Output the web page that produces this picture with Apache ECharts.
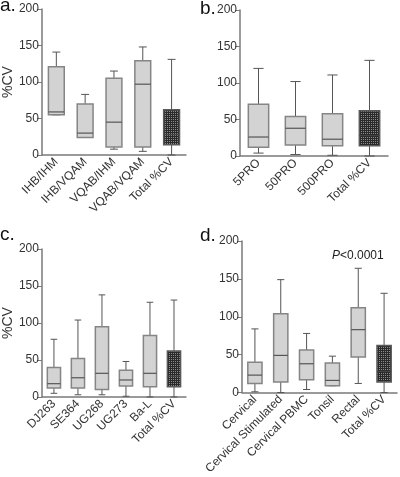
<!DOCTYPE html>
<html><head><meta charset="utf-8">
<script src="https://cdn.jsdelivr.net/npm/echarts@6/dist/echarts.min.js"></script>
<style>html,body{margin:0;padding:0;background:#fff}#c{width:400px;height:477px}</style>
</head><body><div id="c"></div><script>
// y-axis ticks (shared)
const yMin = 0, yMax = 200, yStep = 50;
// Box stats: [min, Q1, median, Q3, max]
const totalCV = [0, 14, 28, 62, 131];
const catsA = ['IHB/IHM', 'IHB/VQAM', 'VQAB/IHM', 'VQAB/VQAM', 'Total %CV'];
const boxesA = [[55, 55, 59, 121, 141], [24, 24, 30, 70, 83], [8, 11, 45, 105, 115], [5, 11, 97, 129, 148]];
const catsB = ['5PRO', '50PRO', '500PRO', 'Total %CV'];
const boxesB = [[4, 12, 26, 71, 120], [2, 15, 38, 54, 102], [1, 14, 23, 58, 111]];
const catsC = ['DJ263', 'SE364', 'UG268', 'UG273', 'Ba-L', 'Total %CV'];
const boxesC = [[5, 12, 18, 40, 78], [3, 12, 26, 52, 104], [3, 10, 32, 95, 138], [1, 15, 23, 36, 48], [0, 14, 32, 83, 128]];
const catsD = ['Cervical', 'Cervical Stimulated', 'Cervical PBMC', 'Tonsil', 'Rectal', 'Total %CV'];
const boxesD = [[1, 12, 23, 40, 84], [0, 14, 49, 104, 149], [4, 17, 38, 56, 78], [9, 9, 16, 39, 48], [12, 47, 83, 112, 164]];
const panelLabels = ['a.', 'b.', 'c.', 'd.'];
const pText = 'P<0.0001';

// checker pattern for Total %CV box
const pc = document.createElement('canvas');
pc.width = 2; pc.height = 2;
const pctx = pc.getContext('2d');
pctx.fillStyle = '#2a2a2a'; pctx.fillRect(0, 0, 2, 2);
pctx.fillStyle = '#8c8c8c'; pctx.fillRect(1, 1, 1, 1);
const pattern = { type: 'pattern', image: pc, repeat: 'repeat' };

const panels = [
  { cats: catsA, boxes: boxesA, grid: { left: 38, top: 9, width: 148, height: 146 }, yName: '%CV' },
  { cats: catsB, boxes: boxesB, grid: { left: 240, top: 10, width: 148, height: 146 }, yName: '' },
  { cats: catsC, boxes: boxesC, grid: { left: 38, top: 249, width: 148, height: 148 }, yName: '%CV' },
  { cats: catsD, boxes: boxesD, grid: { left: 242, top: 241, width: 155, height: 156 }, yName: '' }
];

const FONT = '"Liberation Sans", Arial, sans-serif';
const axisColor = '#7a7a7a';

function renderItem(params, api) {
  const i = api.value(0);
  const isTotal = api.value(6) === 1;
  const xc = api.coord([i, 0])[0];
  const Y = v => api.coord([i, v])[1];
  const band = api.size([1, 0])[0];
  const bw = band * 0.55, cw = bw * 0.5;
  const mn = Y(api.value(1)), q1 = Y(api.value(2)), md = Y(api.value(3)), q3 = Y(api.value(4)), mx = Y(api.value(5));
  const ws = { stroke: '#555', lineWidth: 1, fill: null };
  return {
    type: 'group', children: [
      { type: 'line', shape: { x1: xc, y1: mx, x2: xc, y2: q3 }, style: ws },
      { type: 'line', shape: { x1: xc - cw / 2, y1: mx, x2: xc + cw / 2, y2: mx }, style: ws },
      { type: 'line', shape: { x1: xc, y1: q1, x2: xc, y2: mn }, style: ws },
      { type: 'line', shape: { x1: xc - cw / 2, y1: mn, x2: xc + cw / 2, y2: mn }, style: ws },
      { type: 'rect', shape: { x: xc - bw / 2, y: q3, width: bw, height: q1 - q3 },
        style: { fill: isTotal ? pattern : '#d3d3d3', stroke: isTotal ? '#5a5a5a' : '#858585', lineWidth: 1.5 } },
      { type: 'line', shape: { x1: xc - bw / 2, y1: md, x2: xc + bw / 2, y2: md }, style: { stroke: isTotal ? '#444' : '#555', lineWidth: 1.2 } }
    ]
  };
}

const option = {
  animation: false,
  backgroundColor: '#fff',
  grid: panels.map(p => Object.assign({ containLabel: false }, p.grid)),
  xAxis: panels.map((p, k) => ({
    type: 'category', gridIndex: k, data: p.cats, boundaryGap: true,
    axisLine: { lineStyle: { color: axisColor, width: 1.5 } },
    axisTick: { alignWithLabel: true, length: 5, lineStyle: { color: axisColor, width: 1 } },
    axisLabel: { rotate: 45, interval: 0, fontSize: 12, color: '#333', margin: 5, fontFamily: FONT },
    splitLine: { show: false }
  })),
  yAxis: panels.map((p, k) => ({
    type: 'value', gridIndex: k, min: yMin, max: yMax, interval: yStep,
    name: p.yName, nameLocation: 'middle', nameGap: 24, nameRotate: 90,
    nameTextStyle: { fontSize: 14, color: '#333', fontFamily: FONT },
    axisLine: { show: true, lineStyle: { color: axisColor, width: 1.5 } },
    axisTick: { show: true, length: 5, lineStyle: { color: axisColor, width: 1 } },
    axisLabel: { fontSize: 12, color: '#333', margin: 3, fontFamily: FONT },
    splitLine: { show: false }
  })),
  series: panels.map((p, k) => ({
    type: 'custom', xAxisIndex: k, yAxisIndex: k,
    renderItem: renderItem,
    encode: { x: 0, y: [1, 2, 3, 4, 5] },
    data: p.boxes.concat([totalCV]).map((b, i) => [i].concat(b).concat([i === p.boxes.length ? 1 : 0]))
  })),
  graphic: [
    { type: 'text', left: 0, top: -4, style: { text: panelLabels[0], font: '19px ' + FONT, fill: '#111' } },
    { type: 'text', left: 200, top: -1, style: { text: panelLabels[1], font: '19px ' + FONT, fill: '#111' } },
    { type: 'text', left: 0, top: 225, style: { text: panelLabels[2], font: '19px ' + FONT, fill: '#111' } },
    { type: 'text', left: 200, top: 226, style: { text: panelLabels[3], font: '19px ' + FONT, fill: '#111' } },
    { type: 'text', left: 332, top: 250, style: {
        text: '{i|P}{n|<0.0001}',
        rich: { i: { fontStyle: 'italic', fontSize: 12, fontFamily: FONT, fill: '#222' }, n: { fontSize: 12, fontFamily: FONT, fill: '#222' } }
      } }
  ]
};
const chart = echarts.init(document.getElementById('c'), null, { renderer: 'canvas' });
chart.setOption(option);
</script></body></html>
